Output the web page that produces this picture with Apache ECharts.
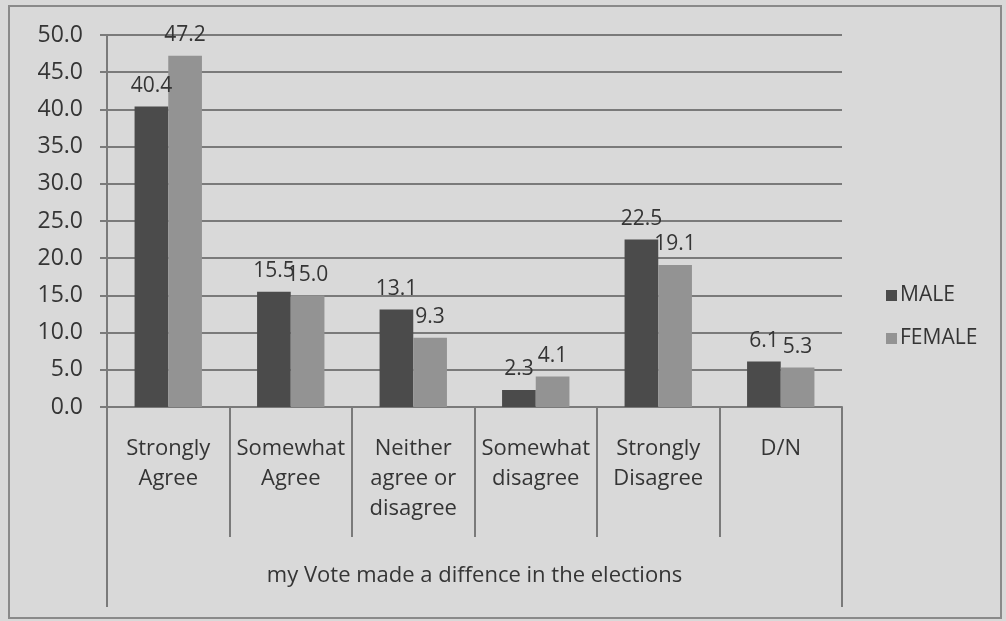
<!DOCTYPE html>
<html>
<head>
<meta charset="utf-8">
<title>my Vote made a diffence in the elections</title>
<script src="https://cdn.jsdelivr.net/npm/echarts@6/dist/echarts.min.js"></script>
<style>
  html, body { margin: 0; padding: 0; background: #d9d9d9; }
  #chart { width: 1006px; height: 621px; }
</style>
</head>
<body>
<div id="chart"></div>
<script>
// Survey responses by gender (percent)
const categories = ['Strongly\nAgree', 'Somewhat\nAgree', 'Neither\nagree or\ndisagree', 'Somewhat\ndisagree', 'Strongly\nDisagree', 'D/N'];
const groupTitle = 'my Vote made a diffence in the elections';
const seriesNames = ['MALE', 'FEMALE'];
const maleValues = [40.4, 15.5, 13.1, 2.3, 22.5, 6.1];
const femaleValues = [47.2, 15.0, 9.3, 4.1, 19.1, 5.3];

const FONT = '"Open Sans", "DejaVu Sans", sans-serif';
const TEXT = '#353535';
const LINE = '#7a7a7a';

const chart = echarts.init(document.getElementById('chart'), null, { renderer: 'canvas' });

const valueLabel = {
  show: true,
  position: 'top',
  distance: 10,
  color: TEXT,
  fontFamily: FONT,
  fontSize: 21,
  formatter: p => p.value.toFixed(1)
};

chart.setOption({
  backgroundColor: '#d9d9d9',
  animation: false,
  textStyle: { fontFamily: FONT, color: TEXT },
  graphic: [{
    type: 'rect',
    shape: { x: 9, y: 6, width: 992, height: 612 },
    style: { fill: 'none', stroke: '#8a8a8a', lineWidth: 2 },
    silent: true
  }],
  legend: {
    orient: 'vertical',
    left: 881,
    top: 280,
    itemWidth: 11,
    itemHeight: 11,
    itemGap: 22,
    icon: 'rect',
    textStyle: { fontFamily: FONT, fontSize: 21, color: TEXT, padding: [0, 0, 0, -2] },
    data: seriesNames
  },
  grid: { left: 107, right: 164, top: 35, bottom: 214, containLabel: false },
  xAxis: [{
    type: 'category',
    data: categories,
    position: 'bottom',
    boundaryGap: true,
    axisLine: { show: true, lineStyle: { color: LINE, width: 2 } },
    axisTick: { show: true, length: 130, lineStyle: { color: LINE, width: 2 } },
    axisLabel: {
      interval: 0,
      margin: 27,
      color: TEXT,
      fontFamily: FONT,
      fontSize: 22,
      lineHeight: 30,
      align: 'center'
    }
  }, {
    type: 'category',
    data: [groupTitle],
    position: 'bottom',
    boundaryGap: true,
    axisLine: { show: false },
    axisTick: { show: true, length: 200, lineStyle: { color: LINE, width: 2 } },
    axisLabel: {
      margin: 158,
      color: TEXT,
      fontFamily: FONT,
      fontSize: 22
    },
    splitLine: { show: false }
  }],
  yAxis: {
    type: 'value',
    min: 0,
    max: 50,
    interval: 5,
    axisLine: { show: true, lineStyle: { color: LINE, width: 2 } },
    axisTick: { show: true, length: 7, lineStyle: { color: LINE, width: 2 } },
    axisLabel: {
      margin: 24,
      color: TEXT,
      fontFamily: FONT,
      fontSize: 23,
      formatter: v => v.toFixed(1)
    },
    splitLine: { show: true, lineStyle: { color: LINE, width: 2 } }
  },
  series: [{
    name: seriesNames[0],
    type: 'bar',
    xAxisIndex: 0,
    data: maleValues,
    barGap: '0%',
    barCategoryGap: '45%',
    itemStyle: { color: '#4b4b4b' },
    label: valueLabel
  }, {
    name: seriesNames[1],
    type: 'bar',
    xAxisIndex: 0,
    data: femaleValues,
    barGap: '0%',
    barCategoryGap: '45%',
    itemStyle: { color: '#939393' },
    label: valueLabel
  }]
});
</script>
</body>
</html>
